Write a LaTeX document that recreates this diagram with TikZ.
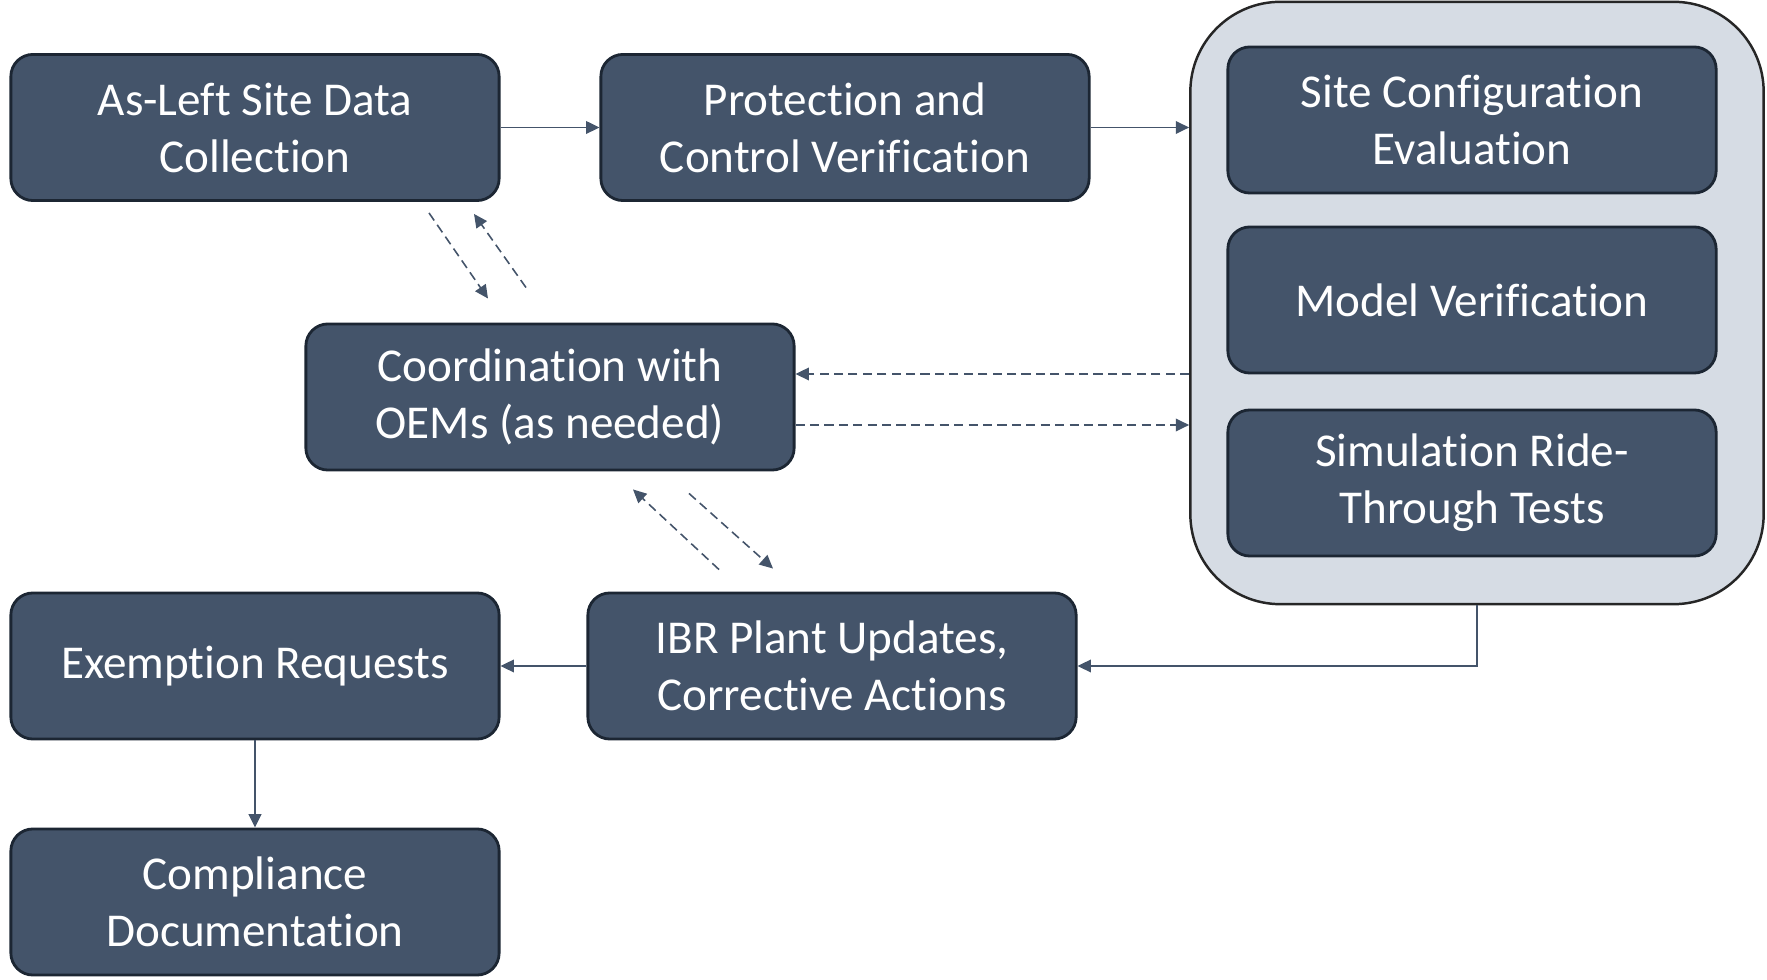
\documentclass[tikz,border=0pt]{standalone}
\usepackage{fontspec}
\setmainfont{Carlito}[Ligatures=NoCommon]
\usepackage{xcolor}
\usepackage{tikz}
\usetikzlibrary{calc,arrows.meta}

\definecolor{boxfill}{HTML}{44546A}
\definecolor{boxline}{HTML}{1C2633}
\definecolor{groupfill}{HTML}{D6DCE4}

\begin{document}
\begin{tikzpicture}[x=.01cm,y=-.01cm,font=\fontsize{13.4}{16.2}\selectfont,
    stepbox/.style={draw=boxline,fill=boxfill,line width=.8pt,rounded corners=.22cm,
      minimum width=4.88cm,minimum height=1.46cm,align=center,text=white,inner sep=0pt},
    groupbox/.style={draw=black!85,fill=groupfill,line width=.7pt,rounded corners=.9cm,
      minimum width=5.73cm,minimum height=6.02cm,inner sep=0pt},
    link/.style={draw=boxfill,line width=.45pt,-{Triangle[length=3.8pt,width=3.6pt]}},
    dlink/.style={link,dash pattern=on 2.6pt off 1.5pt}]
    \useasboundingbox (0,0) rectangle (1767,980);
    \node[groupbox] (group) at (1477,303) {};
    \node[stepbox] (asleft) at (255,127.5) {As-Left Site Data\\Collection};
    \node[stepbox] (protect) at (845,127.5) {Protection and\\Control Verification};
    \node[stepbox] (siteconf) at (1472,120) {Site Configuration\\Evaluation};
    \node[stepbox] (model) at (1472,300) {Model Verification};
    \node[stepbox] (sim) at (1472,483) {Simulation Ride-\\Through Tests};
    \node[stepbox] (coord) at (550,397) {Coordination with\\OEMs (as needed)};
    \node[stepbox] (ibr) at (832,666) {IBR Plant Updates,\\Corrective Actions};
    \node[stepbox] (exempt) at (255,666) {Exemption Requests};
    \node[stepbox] (comply) at (255,902) {Compliance\\Documentation};
    % solid flow
    \draw[link] (asleft) -- (protect);
    \draw[link] (protect.east) -- (protect.east -| group.west);
    \draw[link] (group.south) |- (ibr.east);
    \draw[link] (ibr) -- (exempt);
    \draw[link] (exempt) -- (comply);
    % exchange with OEMs
    \coordinate (in) at ($(coord.east)+(0,-23)$);
    \coordinate (out) at ($(coord.east)+(0,28)$);
    \draw[dlink] (in -| group.west) -- (in);
    \draw[dlink] (out) -- (out -| group.west);
    \draw[dlink] ($(asleft.south)+(174,11)$) -- ($(coord.north)+(-62,-24)$);
    \draw[dlink] ($(coord.north)+(-24,-35)$) -- ($(asleft.south)+(219,12)$);
    \draw[dlink] ($(ibr.north)+(-113,-22)$) -- ($(coord.south)+(83,18)$);
    \draw[dlink] ($(coord.south)+(139,22)$) -- ($(ibr.north)+(-59,-23)$);
  \end{tikzpicture}
\end{document}
